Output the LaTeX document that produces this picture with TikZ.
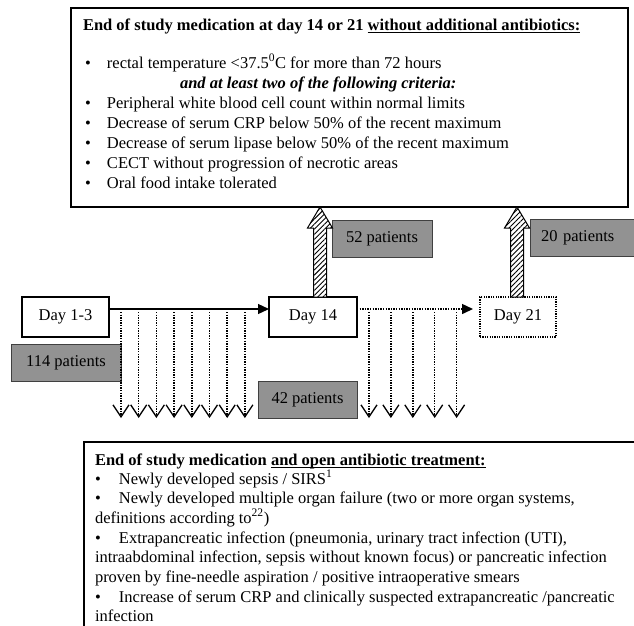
\documentclass[tikz,border=0pt]{standalone}
\usepackage{fontspec}
\setmainfont{Liberation Serif}
\usetikzlibrary{arrows.meta,patterns.meta,calc}
\definecolor{boxgrey}{RGB}{146,146,146}
\newcommand\myul[1]{\setbox0\hbox{#1}\rlap{\rule[-2.6pt]{\wd0}{0.9pt}}#1}
\begin{document}
\begin{tikzpicture}[x=1pt,y=-1pt,
  every node/.style={font=\fontsize{16.5}{20}\selectfont, inner sep=0pt, outer sep=0pt},
  txt/.style={anchor=base west},
  frame/.style={draw, line width=1.2pt},
  daybox/.style={draw, line width=1.4pt, minimum height=40pt},
  greybox/.style={fill=boxgrey, draw=black!75, line width=0.8pt, minimum height=37pt},
  hatch/.style={preaction={fill=white}, pattern={Lines[angle=45,distance=3.6pt,line width=0.9pt]}, draw, line width=1pt},
  solidarrow/.style={line width=1.3pt, -{Triangle[length=11pt,width=10pt]}},
  dotline/.style={line width=1.5pt, dash pattern=on 1.3pt off 1.3pt},
  downarrow/.style={dotline, -{Straight Barb[length=12pt,width=16pt,line width=1.3pt]}}
]
\useasboundingbox (0,0) rectangle (634,625);
\clip (0,0) rectangle (634,625);

% top box
\node[frame, anchor=north west, minimum width=557pt, minimum height=199pt] (top) at (71,8) {};
\node[txt] (tt) at (83,30) {\textbf{End of study medication at day 14 or 21 \myul{without additional antibiotics:}}};
\node[txt] (t1) at (85,68) {\makebox[22pt][l]{\textbullet}rectal temperature <37.5\textsuperscript{0}C for more than 72 hours};
\node[txt] (t2) at (180,88) {\textbf{\textit{and at least two of the following criteria:}}};
\node[txt] (t3) at (85,108) {\makebox[22pt][l]{\textbullet}Peripheral white blood cell count within normal limits};
\node[txt] (t4) at (85,128) {\makebox[22pt][l]{\textbullet}Decrease of serum CRP below 50\% of the recent maximum};
\node[txt] (t5) at (85,148) {\makebox[22pt][l]{\textbullet}Decrease of serum lipase below 50\% of the recent maximum};
\node[txt] (t6) at (85,168) {\makebox[22pt][l]{\textbullet}CECT without progression of necrotic areas};
\node[txt] (t7) at (85,188) {\makebox[22pt][l]{\textbullet}Oral food intake tolerated};

% day boxes
\node[daybox, minimum width=87pt] (d1) at (65.5,317) {Day 1-3\hspace{6pt}};
\node[daybox, minimum width=88pt] (d14) at (313,317) {Day 14};
\node[draw, line width=1.2pt, dash pattern=on 1.2pt off 1.2pt, minimum width=76pt, minimum height=40pt] (d21) at (518,317) {Day 21};

% patient boxes
\node[greybox, minimum width=100pt] (p52) at (382,238.5) {52 patients};
\node[greybox, anchor=north west, text width=92pt, inner xsep=11pt, align=left] (p20) at (530,219) {20 patients};
\node[greybox, minimum width=110pt] (p114) at (66,363) {114 patients\hspace{6pt}};
\node[greybox, minimum width=99pt] (p42) at (307.5,399.5) {42 patients};

% horizontal arrows
\coordinate (ly) at (0,309);
\draw[solidarrow] (d1.east |- ly) -- (d14.west |- ly);
\draw[dotline, -{Triangle[length=11pt,width=10pt]}, shorten >=7pt] (d14.east |- ly) -- (d21.west |- ly);

% hatched arrows
\draw[hatch] let \p1=($(d14.north)+(7,0)$), \p2=(top.south) in
  (\x1-6.5pt,\y1) -- (\x1-6.5pt,\y2-21pt) -- (\x1-12.5pt,\y2-21pt) -- (\x1,\y2)
  -- (\x1+12.5pt,\y2-21pt) -- (\x1+6.5pt,\y2-21pt) -- (\x1+6.5pt,\y1) -- cycle;
\draw[hatch] let \p1=($(d21.north)+(-1,0)$), \p2=(top.south) in
  (\x1-6.5pt,\y1) -- (\x1-6.5pt,\y2-21pt) -- (\x1-12.5pt,\y2-21pt) -- (\x1,\y2)
  -- (\x1+12.5pt,\y2-21pt) -- (\x1+6.5pt,\y2-21pt) -- (\x1+6.5pt,\y1) -- cycle;

% dotted down arrows
\foreach \i in {0,...,7} \draw[downarrow] (121+17.7*\i,312) -- (121+17.7*\i,418);
\foreach \i in {0,...,4} \draw[downarrow] (369+21.9*\i,312) -- (369+21.9*\i,418);

% bottom box
\node[frame, anchor=north west, minimum width=600pt, minimum height=220pt] (bot) at (84,442) {};
\node[txt] (bt) at (95,465) {\textbf{End of study medication \myul{and open antibiotic treatment:}}};
\node[txt] (b1) at (95,484) {\makebox[24pt][l]{\textbullet}Newly developed sepsis / SIRS\textsuperscript{1}};
\node[txt] (b2) at (95,503) {\makebox[24pt][l]{\textbullet}Newly developed multiple organ failure (two or more organ systems,};
\node[txt] (b3) at (95,523) {definitions according to\textsuperscript{22})};
\node[txt] (b4) at (95,543) {\makebox[24pt][l]{\textbullet}Extrapancreatic infection (pneumonia, urinary tract infection (UTI),};
\node[txt] (b5) at (95,562) {intraabdominal infection, sepsis without known focus) or pancreatic infection};
\node[txt] (b6) at (95,582) {proven by fine-needle aspiration / positive intraoperative smears};
\node[txt] (b7) at (95,602) {\makebox[24pt][l]{\textbullet}Increase of serum CRP and clinically suspected extrapancreatic /pancreatic};
\node[txt] (b8) at (95,621) {infection};
\end{tikzpicture}
\end{document}
